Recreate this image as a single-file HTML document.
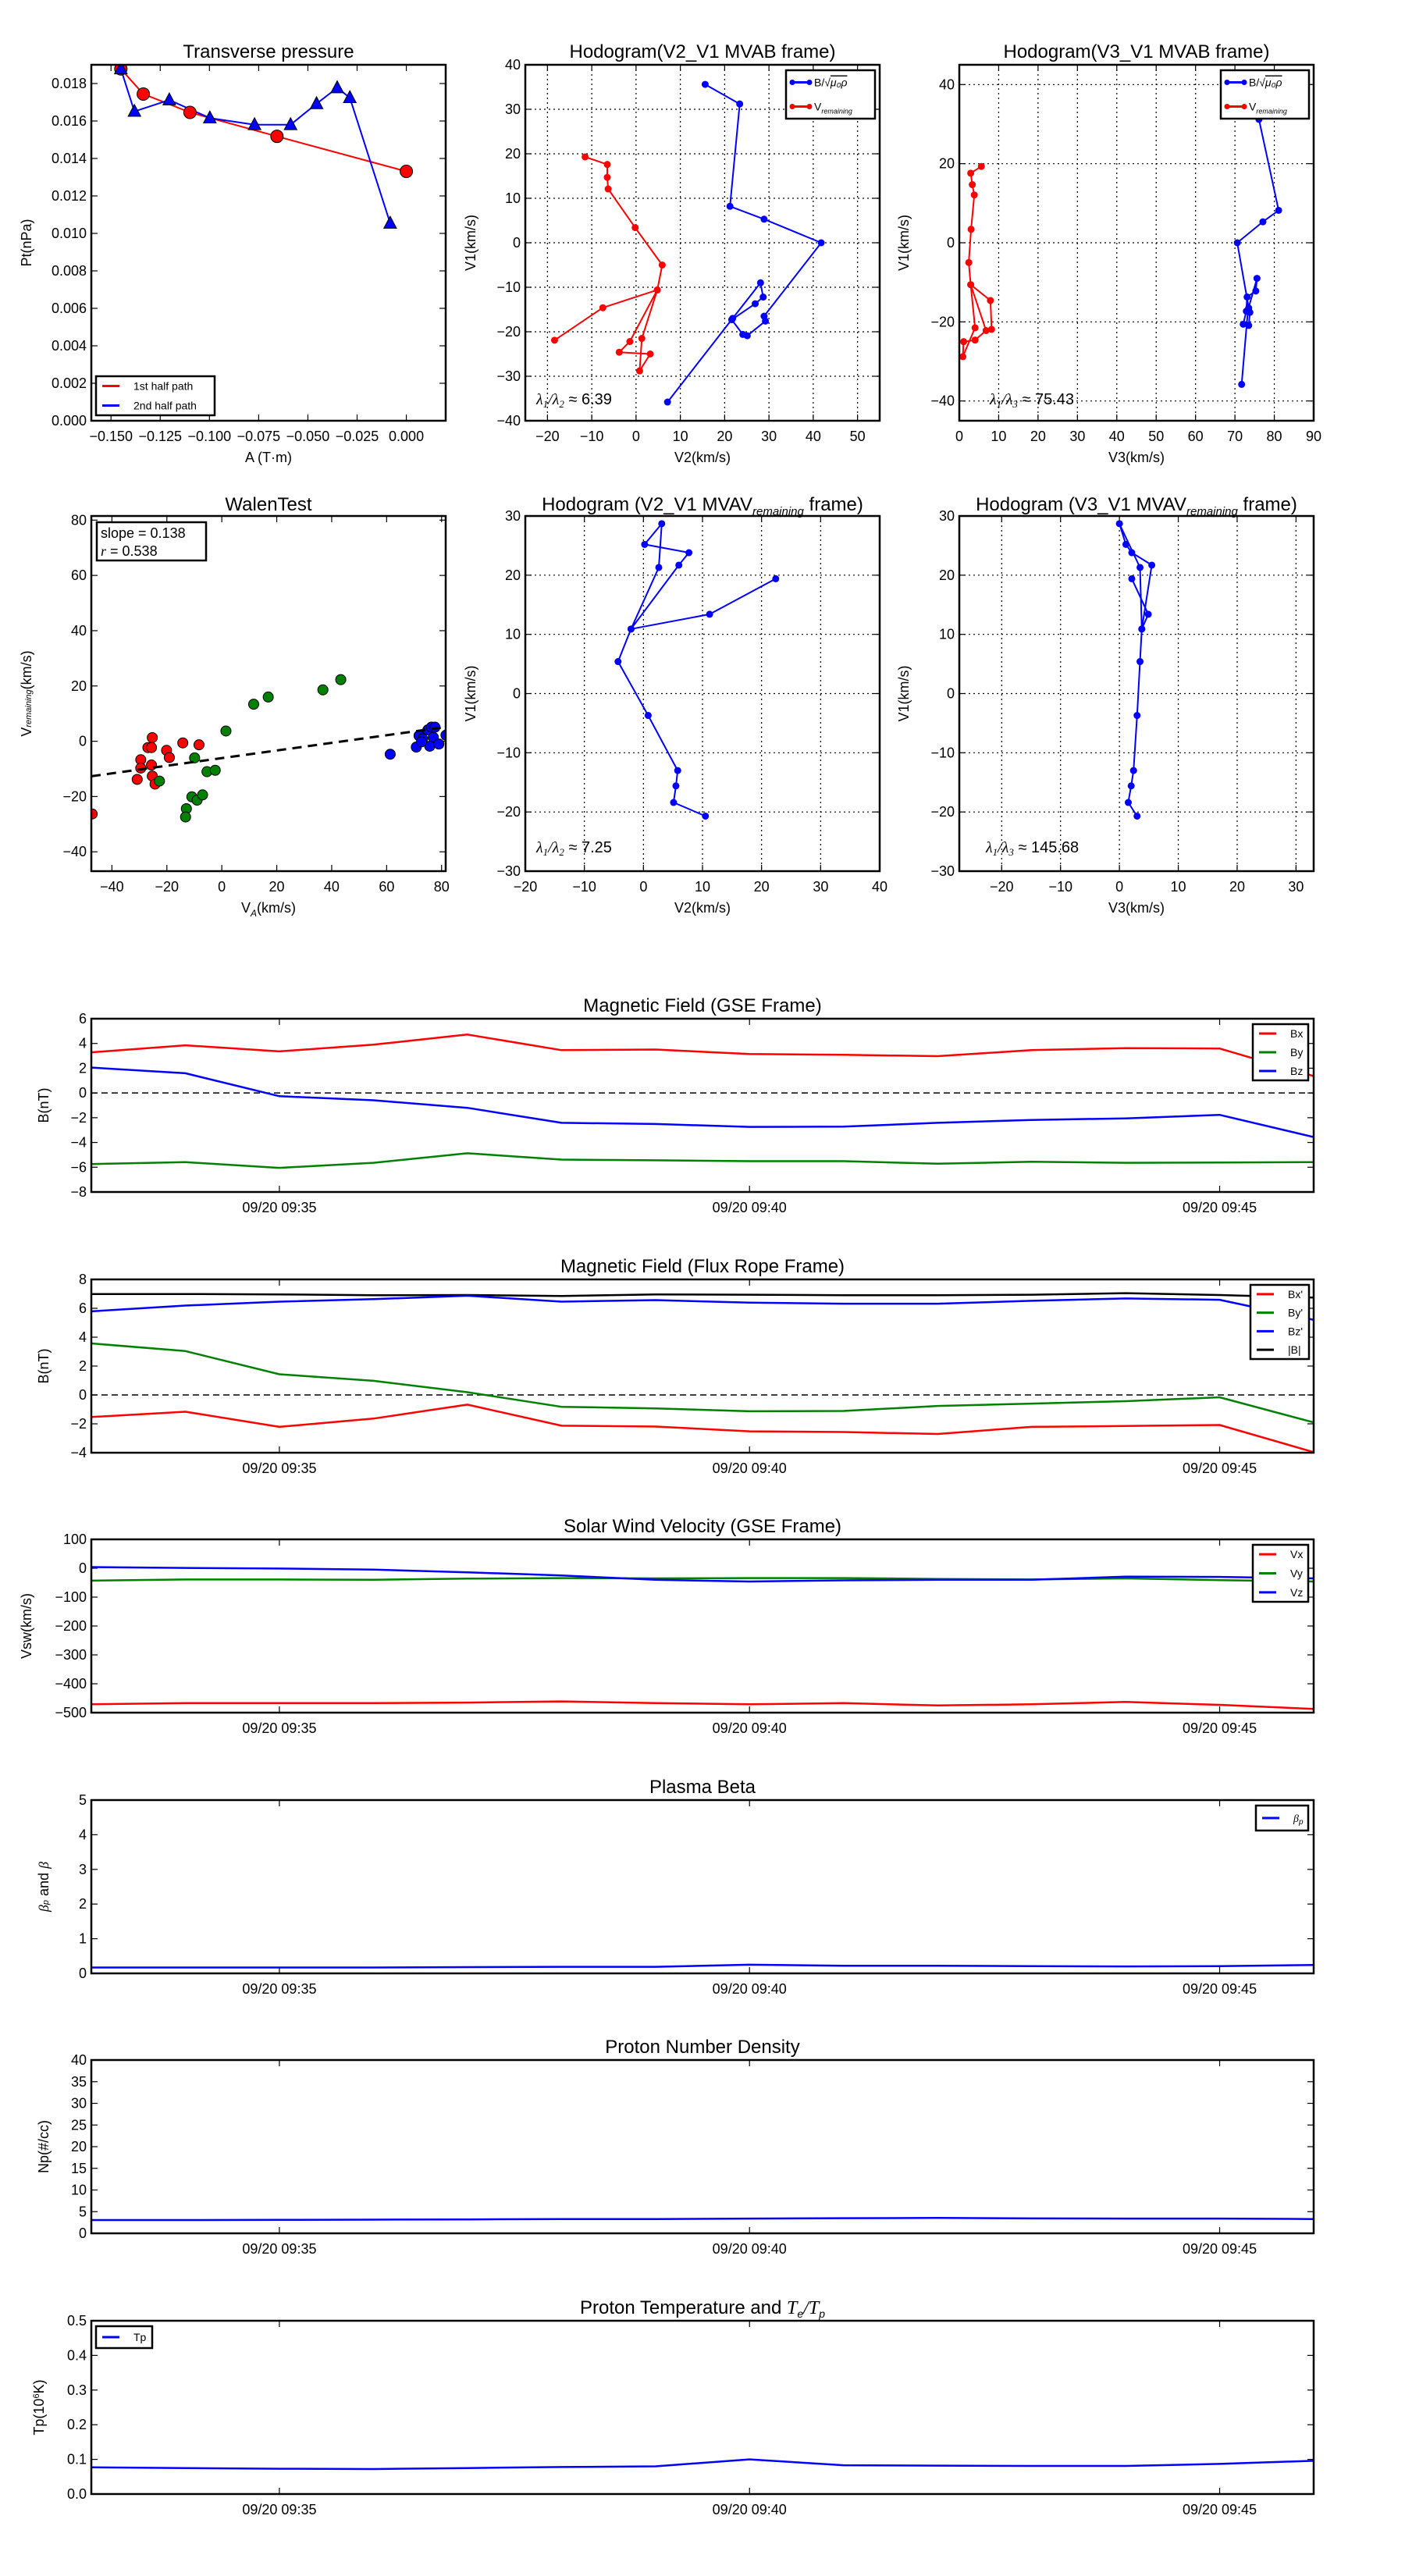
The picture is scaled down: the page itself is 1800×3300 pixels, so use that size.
<!DOCTYPE html>
<html><head><meta charset="utf-8"><title>Flux rope analysis</title>
<style>
html,body{margin:0;padding:0;background:#fff;}
svg{display:block;font-family:"Liberation Sans","DejaVu Sans",sans-serif;}
</style></head>
<body>
<svg id="fig" width="1800" height="3300" viewBox="0 0 1800 3300" xmlns="http://www.w3.org/2000/svg"></svg>
<script>
// ---------- DATA ----------
const ptRedA=[-0.145,-0.1336,-0.1099,-0.0657,0.0];
const ptRedP=[0.01878,0.01744,0.01646,0.01518,0.01331];
const ptBlueA=[-0.145,-0.1381,-0.1204,-0.0998,-0.0771,-0.0588,-0.0456,-0.0351,-0.0287,-0.0082];
const ptBlueP=[0.01878,0.01651,0.01712,0.01616,0.01580,0.01580,0.01692,0.01777,0.01724,0.01054];
const hbV1=[35.6,31.2,8.2,5.3,0,-16.5,-17.6,-20.9,-20.6,-17.3,-13.7,-12.2,-9.0,-17.0,-35.8];
const hbV2=[15.6,23.4,21.2,28.9,41.8,28.9,29.2,25.1,24.1,21.6,26.9,28.7,28.1,21.8,7.1];
const hbV3=[75.5,76.1,81.1,77.1,70.6,73.5,73.8,73.5,72.1,72.9,73.1,75.3,75.6,73.3,71.7];
const hrV1=[19.3,17.6,14.7,12.1,3.4,-5.0,-10.6,-22.2,-24.6,-25.0,-28.8,-21.5,-10.6,-14.6,-21.9];
const hrV2=[-11.5,-6.5,-6.5,-6.3,-0.2,5.9,4.8,-1.4,-3.8,3.2,0.8,1.3,4.8,-7.5,-18.4];
const hrV3=[5.6,2.9,3.3,3.8,3.0,2.4,2.9,6.8,4.0,1.1,0.9,4.0,2.9,7.9,8.2];
const wRedX=[-47.2,-25.3,-26.9,-25.6,-14.2,-8.3,-20.1,-19.1,-29.5,-29.5,-25.6,-30.8,-25.3,-24.3];
const wRedY=[-26.3,1.3,-2.3,-2.3,-0.6,-1.3,-3.3,-5.9,-6.7,-9.7,-8.6,-13.8,-12.6,-15.5];
const wGreenX=[-22.7,-9.9,-5.4,-2.4,1.5,11.6,16.9,36.8,43.3,-10.9,-9.0,-7.0,-12.9,-13.2];
const wGreenY=[-14.4,-6.0,-11.0,-10.5,3.7,13.4,16.0,18.6,22.3,-20.1,-21.3,-19.4,-24.4,-27.4];
const wBlueX=[61.3,70.8,71.8,73.1,75.0,76.3,77.6,77.0,75.7,79.0,81.6,72.7];
const wBlueY=[-4.7,-2.1,2.0,0.9,4.1,5.1,5.1,1.4,-1.8,-1.0,2.2,-0.2];
const walenSlope=0.138, walenIntercept=-6.1;
const hvV1=[19.4,13.4,10.9,21.7,23.8,25.2,28.7,21.3,10.9,5.4,-3.7,-13.0,-15.6,-18.4,-20.7];
const hvV2=[22.4,11.2,-2.1,6.0,7.7,0.2,3.1,2.6,-2.1,-4.3,0.8,5.8,5.5,5.1,10.5];
const hvV3=[2.1,4.9,3.8,5.5,2.1,1.1,0.0,3.5,3.8,3.5,3.0,2.4,2.0,1.5,3.0];
const tMin=[0,1,2,3,4,5,6,7,8,9,10,11,12,13];
const timeTicks=[2,7,12];
const timeTickLabels=["09/20 09:35","09/20 09:40","09/20 09:45"];
const bx=[3.28,3.85,3.36,3.9,4.72,3.46,3.51,3.15,3.08,2.97,3.46,3.62,3.59,1.36];
const by=[-5.74,-5.59,-6.05,-5.64,-4.87,-5.38,-5.44,-5.51,-5.51,-5.72,-5.56,-5.64,-5.62,-5.59];
const bz=[2.05,1.59,-0.26,-0.59,-1.2,-2.41,-2.51,-2.74,-2.72,-2.41,-2.18,-2.05,-1.77,-3.56];
const bxp=[-1.53,-1.16,-2.21,-1.64,-0.67,-2.13,-2.19,-2.52,-2.57,-2.70,-2.21,-2.15,-2.08,-3.96];
const byp=[3.57,3.04,1.43,0.98,0.19,-0.82,-0.93,-1.13,-1.11,-0.76,-0.6,-0.43,-0.16,-1.9];
const bzp=[5.79,6.19,6.46,6.63,6.87,6.46,6.57,6.39,6.32,6.32,6.52,6.68,6.59,5.2];
const bmag=[6.99,6.99,6.96,6.9,6.92,6.85,6.96,6.94,6.9,6.9,6.94,7.05,6.92,6.74];
const vx=[-471,-467,-467,-467,-465,-461,-467,-471,-467,-475,-471,-463,-473,-487];
const vy=[-43,-39,-39,-40,-36,-34,-35,-34,-34,-37,-39,-35,-41,-46];
const vz=[4,1,-1,-5,-14,-25,-40,-46,-42,-40,-40,-29,-30,-35];
const betaP=[0.17,0.17,0.17,0.17,0.18,0.19,0.19,0.25,0.22,0.22,0.21,0.2,0.21,0.24];
const np=[3.06,3.06,3.1,3.15,3.2,3.3,3.3,3.4,3.5,3.55,3.45,3.4,3.4,3.3];
const tp=[0.077,0.075,0.073,0.072,0.075,0.078,0.08,0.1,0.083,0.082,0.081,0.081,0.087,0.096];

// ---------- HELPERS ----------
const NS="http://www.w3.org/2000/svg";
const fig=document.getElementById('fig');
function el(tag,parent,attrs){const e=document.createElementNS(NS,tag);for(const k in attrs)e.setAttribute(k,attrs[k]);parent.appendChild(e);return e;}
function txt(parent,x,y,s,size,anchor,extra){const t=el('text',parent,Object.assign({x:x,y:y,'font-size':size,'text-anchor':anchor||'middle',fill:'#000'},extra||{}));t.textContent=s;return t;}

function makeAxes(name,x0,y0,w,h,xmin,xmax,ymin,ymax,xticks,xlabels,yticks,ylabels,grid){
  const g=el('g',fig,{});
  
  
  const sx=v=>x0+(v-xmin)/(xmax-xmin)*w;
  const sy=v=>y0+h-(v-ymin)/(ymax-ymin)*h;
  const gg=el('g',g,{});
  
  
  xticks.forEach((v,i)=>{
    const X=sx(v);
    if(grid) el('line',gg,{x1:X,y1:y0,x2:X,y2:y0+h,stroke:'#000','stroke-width':1.2,'stroke-dasharray':'2,4'});
    el('line',g,{x1:X,y1:y0+h,x2:X,y2:y0+h-8,stroke:'#000','stroke-width':1.2});
    el('line',g,{x1:X,y1:y0,x2:X,y2:y0+8,stroke:'#000','stroke-width':1.2});
    const t=txt(g,X,y0+h+26,xlabels[i],18);
    
    
  });
  yticks.forEach((v,i)=>{
    const Y=sy(v);
    if(grid) el('line',gg,{x1:x0,y1:Y,x2:x0+w,y2:Y,stroke:'#000','stroke-width':1.2,'stroke-dasharray':'2,4'});
    el('line',g,{x1:x0,y1:Y,x2:x0+8,y2:Y,stroke:'#000','stroke-width':1.2});
    el('line',g,{x1:x0+w,y1:Y,x2:x0+w-8,y2:Y,stroke:'#000','stroke-width':1.2});
    const t=txt(g,x0-6,Y+6,ylabels[i],18,'end');
    
    
  });
  const clip=el('clipPath',g,{id:'clip-'+name});
  el('rect',clip,{x:x0,y:y0,width:w,height:h});
  const plot=el('g',g,{'clip-path':'url(#clip-'+name+')'});
  
  
  const fr=el('rect',g,{x:x0,y:y0,width:w,height:h,fill:'none',stroke:'#000','stroke-width':2.5});
  
  
  return {g,plot,sx,sy,x0,y0,w,h};
}
function polyline(ax,xs,ys,color,width,name){
  const pts=xs.map((v,i)=>ax.sx(v).toFixed(1)+','+ax.sy(ys[i]).toFixed(1)).join(' ');
  const p=el('polyline',ax.plot,{points:pts,fill:'none',stroke:color,'stroke-width':width,'stroke-linejoin':'round'});
  
  
  return p;
}
function dots(ax,xs,ys,color,r,name){
  xs.forEach((v,i)=>{
    const c=el('circle',ax.plot,{cx:ax.sx(v),cy:ax.sy(ys[i]),r:r,fill:color,stroke:'#000','stroke-width':r>5?1:0});
    
    
  });
}
function tris(ax,xs,ys,color,r,name){
  xs.forEach((v,i)=>{
    const X=ax.sx(v),Y=ax.sy(ys[i]);
    const p=el('polygon',ax.plot,{points:`${X},${Y-r} ${X-r*0.9},${Y+r*0.7} ${X+r*0.9},${Y+r*0.7}`,fill:color,stroke:'#000','stroke-width':1});
    
    
  });
}
function title(x,y,s,name){const t=txt(fig,x,y,s,24);return t;}
function ylab(x,y,s,name,size){const t=txt(fig,x,y,s,size||18,'middle',{transform:`rotate(-90 ${x} ${y})`});return t;}
function xlab(x,y,s,name){const t=txt(fig,x,y,s,18);return t;}
function legendBox(x,y,w,h,entries,name,marker){
  const g=el('g',fig,{});
  
  
  el('rect',g,{x:x,y:y,width:w,height:h,fill:'#fff',stroke:'#000','stroke-width':2.5});
  const step=h/entries.length;
  entries.forEach((e,i)=>{
    const Y=y+step*(i+0.5);
    const eg=el('g',g,{});
    
    
    el('line',eg,{x1:x+8,y1:Y,x2:x+30,y2:Y,stroke:e.c,'stroke-width':3});
    if(marker==='dot'){el('circle',eg,{cx:x+8,cy:Y,r:3.5,fill:e.c});el('circle',eg,{cx:x+30,cy:Y,r:3.5,fill:e.c});}
    const t=txt(eg,x+(marker==='dot'?36:48),Y+5,'',14,'start');
    if(e.html) t.innerHTML=e.html; else t.textContent=e.t;
  });
  return g;
}
const tk=(a)=>a.map(v=>v<0?'−'+(-v):''+v);

// Layout
const P1=117,P2=673,P3=1229,PW=454;
const R1=83,R1H=456,R2=661,R2H=455;
const TL=117,TW=1566,TH=222;
const TT=[1305,1639,1972,2306,2639,2973];

// ---------- ROW 1 ----------
const ax1=makeAxes('transverse-pressure-chart',P1,R1,PW,R1H,-0.16,0.02,0,0.019,
  [-0.15,-0.125,-0.1,-0.075,-0.05,-0.025,0],["−0.150","−0.125","−0.100","−0.075","−0.050","−0.025","0.000"],
  [0,0.002,0.004,0.006,0.008,0.010,0.012,0.014,0.016,0.018],["0.000","0.002","0.004","0.006","0.008","0.010","0.012","0.014","0.016","0.018"],false);
polyline(ax1,ptRedA,ptRedP,'#ff0000',2,'first-half-path-line');
polyline(ax1,ptBlueA,ptBlueP,'#0000ff',2,'second-half-path-line');
dots(ax1,ptRedA,ptRedP,'#ff0000',8,'first-half-point');
tris(ax1,ptBlueA,ptBlueP,'#0000ff',9,'second-half-point');
title(P1+PW/2,74,'Transverse pressure','transverse-pressure-title');
ylab(40,R1+R1H/2,'Pt(nPa)','pt-axis-title');
xlab(P1+PW/2,592,'A (T·m)','a-axis-title');
legendBox(123,482,152,50,[{c:'#ff0000',t:'1st half path'},{c:'#0000ff',t:'2nd half path'}],'pressure-legend');

const ax2=makeAxes('hodogram-v2-v1-mvab',P2,R1,PW,R1H,-25,55,-40,40,
  [-20,-10,0,10,20,30,40,50],tk([-20,-10,0,10,20,30,40,50]),[-40,-30,-20,-10,0,10,20,30,40],tk([-40,-30,-20,-10,0,10,20,30,40]),true);
polyline(ax2,hbV2,hbV1,'#0000ff',2,'b-hodogram-line');
dots(ax2,hbV2,hbV1,'#0000ff',4.5,'b-hodogram-point');
polyline(ax2,hrV2,hrV1,'#ff0000',2,'v-hodogram-line');
dots(ax2,hrV2,hrV1,'#ff0000',4.5,'v-hodogram-point');
title(P2+PW/2,74,'Hodogram(V2_V1 MVAB frame)','hodogram-mvab-v2-title');
ylab(609,R1+R1H/2,'V1(km/s)','v1-axis-title');
xlab(P2+PW/2,592,'V2(km/s)','v2-axis-title');
{const t=txt(fig,687,518,'',20,'start');t.innerHTML='<tspan font-style="italic" font-family="Liberation Serif">λ<tspan font-size="13" dy="4">1</tspan><tspan dy="-4">/λ</tspan><tspan font-size="13" dy="4">2</tspan></tspan><tspan dy="-4"> ≈ 6.39</tspan>';}
legendBox(1007,90,114,62,[{c:'#0000ff',html:'B/√<tspan text-decoration="overline" font-style="italic">μ₀ρ</tspan>'},{c:'#ff0000',html:'V<tspan font-size="9" font-style="italic" dy="4">remaining</tspan>'}],'hodogram-mvab-legend','dot');

const ax3=makeAxes('hodogram-v3-v1-mvab',P3,R1,PW,R1H,0,90,-45,45,
  [0,10,20,30,40,50,60,70,80,90],tk([0,10,20,30,40,50,60,70,80,90]),[-40,-20,0,20,40],tk([-40,-20,0,20,40]),true);
polyline(ax3,hbV3,hbV1,'#0000ff',2,'b-hodogram-line');
dots(ax3,hbV3,hbV1,'#0000ff',4.5,'b-hodogram-point');
polyline(ax3,hrV3,hrV1,'#ff0000',2,'v-hodogram-line');
dots(ax3,hrV3,hrV1,'#ff0000',4.5,'v-hodogram-point');
title(P3+PW/2,74,'Hodogram(V3_V1 MVAB frame)','hodogram-mvab-v3-title');
ylab(1164,R1+R1H/2,'V1(km/s)','v1-axis-title');
xlab(P3+PW/2,592,'V3(km/s)','v3-axis-title');
{const t=txt(fig,1268,518,'',20,'start');t.innerHTML='<tspan font-style="italic" font-family="Liberation Serif">λ<tspan font-size="13" dy="4">1</tspan><tspan dy="-4">/λ</tspan><tspan font-size="13" dy="4">3</tspan></tspan><tspan dy="-4"> ≈ 75.43</tspan>';}
legendBox(1564,90,113,62,[{c:'#0000ff',html:'B/√<tspan text-decoration="overline" font-style="italic">μ₀ρ</tspan>'},{c:'#ff0000',html:'V<tspan font-size="9" font-style="italic" dy="4">remaining</tspan>'}],'hodogram-mvab-v3-legend','dot');

// ---------- ROW 2 ----------
const ax4=makeAxes('walen-test-chart',P1,R2,PW,R2H,-47.5,81.5,-47,81.5,
  [-40,-20,0,20,40,60,80],tk([-40,-20,0,20,40,60,80]),[-40,-20,0,20,40,60,80],tk([-40,-20,0,20,40,60,80]),false);
dots(ax4,wRedX,wRedY,'#ff0000',6.5,'walen-red-point');
dots(ax4,wGreenX,wGreenY,'#008000',6.5,'walen-green-point');
dots(ax4,wBlueX,wBlueY,'#0000ff',6.5,'walen-blue-point');
{const xs=[-47.5,81.5];const ys=xs.map(v=>walenSlope*v+walenIntercept);const p=polyline(ax4,xs,ys,'#000',3,'walen-fit-line');p.setAttribute('stroke-dasharray','12,8');}
title(P1+PW/2,654,'WalenTest','walen-test-title');
ylab(40,R2+R2H/2,'','walen-y-axis-title').innerHTML='V<tspan font-size="11" font-style="italic">remaining</tspan>(km/s)';
xlab(P1+PW/2,1169,'','walen-x-axis-title').innerHTML='V<tspan font-size="12" font-style="italic" dy="5">A</tspan><tspan dy="-5">(km/s)</tspan>';
{const g=el('g',fig,{});
 el('rect',g,{x:124,y:669,width:140,height:49,fill:'#fff',stroke:'#000','stroke-width':2.5});
 txt(g,129,689,'slope = 0.138',18,'start');const t=txt(g,129,712,'',18,'start');t.innerHTML='<tspan font-style="italic" font-family="Liberation Serif">r</tspan> = 0.538';}

const ax5=makeAxes('hodogram-v2-v1-mvav',P2,R2,PW,R2H,-20,40,-30,30,
  [-20,-10,0,10,20,30,40],tk([-20,-10,0,10,20,30,40]),[-30,-20,-10,0,10,20,30],tk([-30,-20,-10,0,10,20,30]),true);
polyline(ax5,hvV2,hvV1,'#0000ff',2,'mvav-hodogram-line');
dots(ax5,hvV2,hvV1,'#0000ff',4.5,'mvav-hodogram-point');
title(P2+PW/2,654,'','hodogram-mvav-v2-title').innerHTML='Hodogram (V2_V1 MVAV<tspan font-size="15" font-style="italic" dy="6">remaining</tspan><tspan dy="-6"> frame)</tspan>';
ylab(609,R2+R2H/2,'V1(km/s)','v1-axis-title');
xlab(P2+PW/2,1169,'V2(km/s)','v2-axis-title');
{const t=txt(fig,687,1092,'',20,'start');t.innerHTML='<tspan font-style="italic" font-family="Liberation Serif">λ<tspan font-size="13" dy="4">1</tspan><tspan dy="-4">/λ</tspan><tspan font-size="13" dy="4">2</tspan></tspan><tspan dy="-4"> ≈ 7.25</tspan>';}

const ax6=makeAxes('hodogram-v3-v1-mvav',P3,R2,PW,R2H,-27.2,33,-30,30,
  [-20,-10,0,10,20,30],tk([-20,-10,0,10,20,30]),[-30,-20,-10,0,10,20,30],tk([-30,-20,-10,0,10,20,30]),true);
polyline(ax6,hvV3,hvV1,'#0000ff',2,'mvav-hodogram-line');
dots(ax6,hvV3,hvV1,'#0000ff',4.5,'mvav-hodogram-point');
title(P3+PW/2,654,'','hodogram-mvav-v3-title').innerHTML='Hodogram (V3_V1 MVAV<tspan font-size="15" font-style="italic" dy="6">remaining</tspan><tspan dy="-6"> frame)</tspan>';
ylab(1164,R2+R2H/2,'V1(km/s)','v1-axis-title');
xlab(P3+PW/2,1169,'V3(km/s)','v3-axis-title');
{const t=txt(fig,1263,1092,'',20,'start');t.innerHTML='<tspan font-style="italic" font-family="Liberation Serif">λ<tspan font-size="13" dy="4">1</tspan><tspan dy="-4">/λ</tspan><tspan font-size="13" dy="4">3</tspan></tspan><tspan dy="-4"> ≈ 145.68</tspan>';}

// ---------- TIME SERIES ----------
function timeAxes(name,y0,ymin,ymax,yt,ylabelsArr){
  return makeAxes(name,TL,y0,TW,TH,0,13,ymin,ymax,timeTicks,timeTickLabels,yt,ylabelsArr,false);
}
function zeroLine(ax){const p=polyline(ax,[0,13],[0,0],'#000',1.5,'zero-reference-line');p.setAttribute('stroke-dasharray','8,5');}
const TC=TL+TW/2;

const t1=timeAxes('magnetic-field-gse-chart',TT[0],-8,6,[-8,-6,-4,-2,0,2,4,6],tk([-8,-6,-4,-2,0,2,4,6]));
zeroLine(t1);
polyline(t1,tMin,bx,'#ff0000',2.5,'bx-line');
polyline(t1,tMin,by,'#008000',2.5,'by-line');
polyline(t1,tMin,bz,'#0000ff',2.5,'bz-line');
title(TC,TT[0]-9,'Magnetic Field (GSE Frame)','magnetic-field-gse-title');
ylab(62,TT[0]+TH/2,'B(nT)','b-axis-title');
legendBox(1605,1312,71,72,[{c:'#ff0000',t:'Bx'},{c:'#008000',t:'By'},{c:'#0000ff',t:'Bz'}],'gse-legend');

const t2=timeAxes('magnetic-field-flux-rope-chart',TT[1],-4,8,[-4,-2,0,2,4,6,8],tk([-4,-2,0,2,4,6,8]));
zeroLine(t2);
polyline(t2,tMin,bmag,'#000000',2.5,'bmag-line');
polyline(t2,tMin,bzp,'#0000ff',2.5,'bz-prime-line');
polyline(t2,tMin,byp,'#008000',2.5,'by-prime-line');
polyline(t2,tMin,bxp,'#ff0000',2.5,'bx-prime-line');
title(TC,TT[1]-9,'Magnetic Field (Flux Rope Frame)','magnetic-field-flux-rope-title');
ylab(62,TT[1]+TH/2,'B(nT)','b-axis-title');
legendBox(1602,1646,75,95,[{c:'#ff0000',t:"Bx'"},{c:'#008000',t:"By'"},{c:'#0000ff',t:"Bz'"},{c:'#000',t:'|B|'}],'flux-rope-legend');

const t3=timeAxes('solar-wind-velocity-chart',TT[2],-500,100,[-500,-400,-300,-200,-100,0,100],tk([-500,-400,-300,-200,-100,0,100]));
polyline(t3,tMin,vx,'#ff0000',2.5,'vx-line');
polyline(t3,tMin,vy,'#008000',2.5,'vy-line');
polyline(t3,tMin,vz,'#0000ff',2.5,'vz-line');
title(TC,TT[2]-9,'Solar Wind Velocity (GSE Frame)','solar-wind-velocity-title');
ylab(40,TT[2]+TH/2,'Vsw(km/s)','vsw-axis-title');
legendBox(1605,1979,71,73,[{c:'#ff0000',t:'Vx'},{c:'#008000',t:'Vy'},{c:'#0000ff',t:'Vz'}],'velocity-legend');

const t4=timeAxes('plasma-beta-chart',TT[3],0,5,[0,1,2,3,4,5],['0','1','2','3','4','5']);
polyline(t4,tMin,betaP,'#0000ff',2.5,'beta-p-line');
title(TC,TT[3]-9,'Plasma Beta','plasma-beta-title');
ylab(62,TT[3]+TH/2,'','beta-axis-title').innerHTML='<tspan font-style="italic" font-family="Liberation Serif">β</tspan><tspan font-size="11" font-style="italic">p</tspan> and <tspan font-style="italic" font-family="Liberation Serif">β</tspan>';
legendBox(1609,2313,67,32,[{c:'#0000ff',html:'<tspan font-style="italic" font-family="Liberation Serif">β</tspan><tspan font-size="10" font-style="italic" dy="3">p</tspan>'}],'beta-legend');

const t5=timeAxes('proton-density-chart',TT[4],0,40,[0,5,10,15,20,25,30,35,40],['0','5','10','15','20','25','30','35','40']);
polyline(t5,tMin,np,'#0000ff',2.5,'np-line');
title(TC,TT[4]-9,'Proton Number Density','proton-density-title');
ylab(62,TT[4]+TH/2,'Np(#/cc)','np-axis-title');

const t6=timeAxes('proton-temperature-chart',TT[5],0,0.5,[0,0.1,0.2,0.3,0.4,0.5],['0.0','0.1','0.2','0.3','0.4','0.5']);
polyline(t6,tMin,tp,'#0000ff',2.5,'tp-line');
title(TC,TT[5]-9,'','proton-temperature-title').innerHTML='Proton Temperature and <tspan font-style="italic" font-family="Liberation Serif">T</tspan><tspan font-size="14" font-style="italic" dy="5">e</tspan><tspan dy="-5" font-style="italic" font-family="Liberation Serif">/T</tspan><tspan font-size="14" font-style="italic" dy="5">p</tspan>';
ylab(56,TT[5]+TH/2,'','tp-axis-title').innerHTML='Tp(10<tspan font-size="11" dy="-6">6</tspan><tspan dy="6">K)</tspan>';
legendBox(123,2980,72,28,[{c:'#0000ff',t:'Tp'}],'tp-legend');
</script>
</body></html>
